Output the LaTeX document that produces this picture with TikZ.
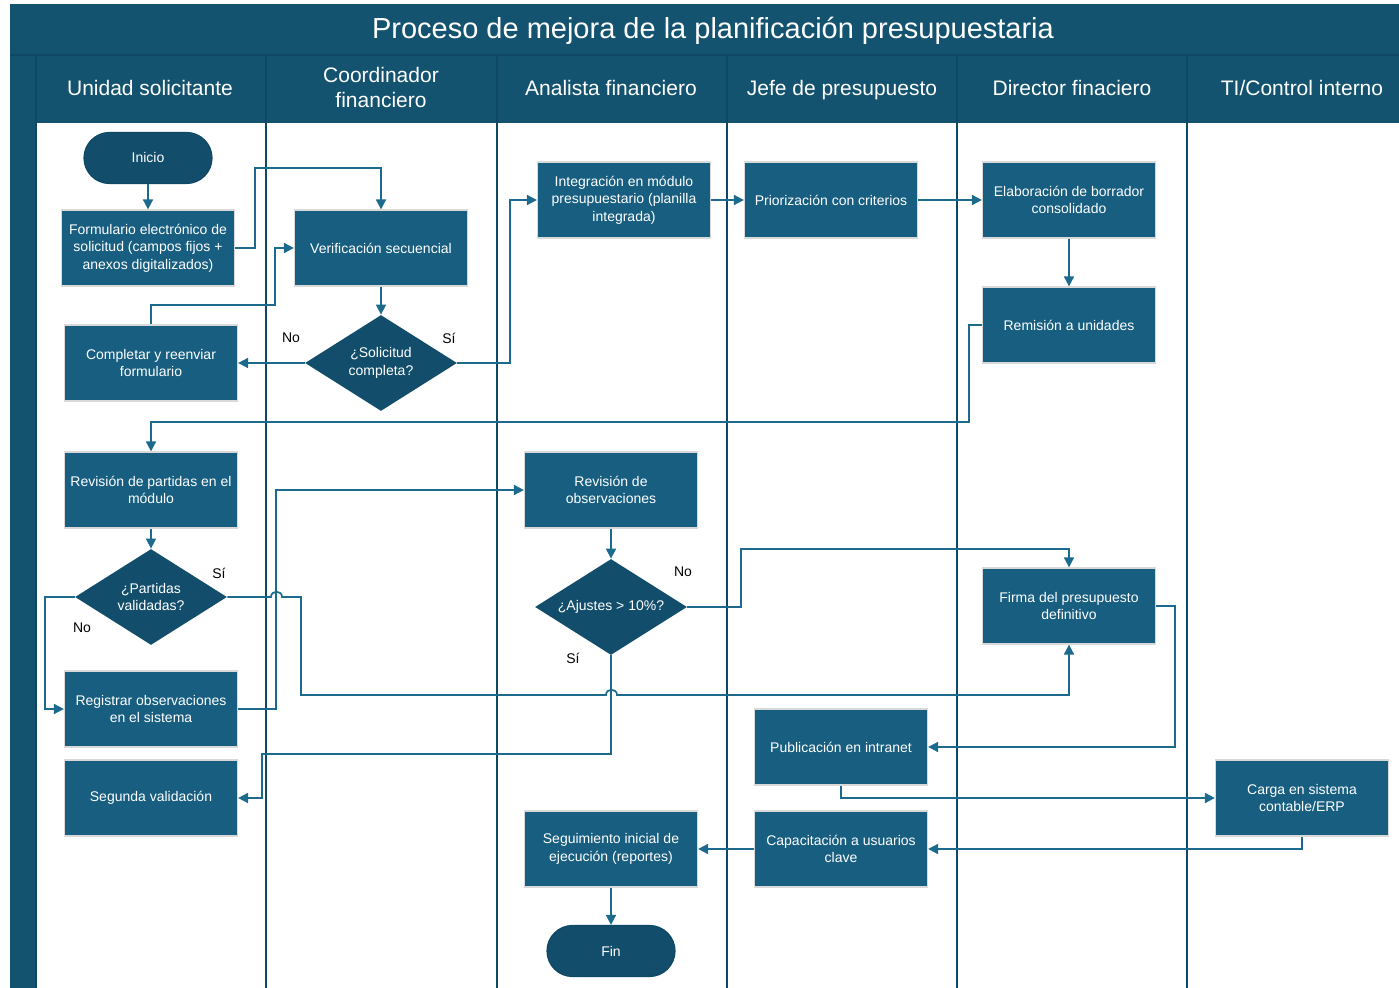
\documentclass[tikz,border=0pt]{standalone}
\usepackage{fontspec}
\setmainfont{Liberation Sans}
\usetikzlibrary{arrows.meta,shapes.geometric}

\definecolor{barcol}{HTML}{14536F}
\definecolor{lanecol}{HTML}{0F4864}
\definecolor{boxcol}{HTML}{175E80}
\definecolor{deccol}{HTML}{124E6B}
\definecolor{flowcol}{HTML}{1C6A8E}

\newcommand\boxfont{\fontsize{7}{8.7}\selectfont}
\newcommand\headfont{\fontsize{10.5}{12.5}\selectfont}

\tikzset{
    lane/.style={draw=lanecol, line width=0.75pt},
    procbox/.style={rectangle, fill=boxcol, draw=black!15, line width=0.6pt,
        text=white, minimum width=86.5pt, minimum height=38pt, inner sep=1pt,
        align=center, font=\boxfont},
    decision/.style={diamond, aspect=1.58, fill=deccol, text=white,
        minimum width=76pt, minimum height=48pt, inner sep=0pt,
        align=center, font=\boxfont},
    terminal/.style={rectangle, rounded corners=12.75pt, fill=deccol,
        draw=lanecol, line width=0.6pt, text=white, minimum width=64pt,
        minimum height=25.5pt, font=\boxfont},
    lanehead/.style={text=white, align=center, font=\headfont},
    answer/.style={text=black, font=\boxfont},
    flow/.style={draw=flowcol, line width=0.85pt, -{Triangle[length=5pt,width=5pt]}},
}

\begin{document}
\begin{tikzpicture}[x=0.5pt, y=-0.5pt]
    \useasboundingbox (0,0) rectangle (1399,988);

    % Title bar and lane headers
    \fill[barcol] (10,4) rectangle (1399,123);
    \fill[barcol] (10,123) rectangle (36,988);
    \draw[lane] (10,55) -- (1399,55);
    \draw[lane] (36,55) -- (36,988);
    \node[anchor=base, text=white, font=\fontsize{14.5}{16}\selectfont] (title) at (713,39)
        {Proceso de mejora de la planificación presupuestaria};

    % Lanes
    \foreach \x in {266,497,727,957,1187}
        \draw[lane] (\x,55) -- (\x,988);

    \node[lanehead, anchor=base] (hUnidad) at (150,96) {Unidad solicitante};
    \node[lanehead] (hCoord) at (381,88) {Coordinador\\financiero};
    \node[lanehead, anchor=base] (hAnal) at (611,96) {Analista financiero};
    \node[lanehead, anchor=base] (hJefe) at (842,96) {Jefe de presupuesto};
    \node[lanehead, anchor=base] (hDir) at (1072,96) {Director finaciero};
    \node[lanehead, anchor=base] (hTI) at (1302,96) {TI/Control interno};

    % Unidad solicitante
    \node[terminal] (start) at (148,158) {Inicio};
    \node[procbox] (form) at (148,248) {Formulario electrónico de\\solicitud (campos fijos +\\anexos digitalizados)};
    \node[procbox] (compl) at (151,363) {Completar y reenviar\\formulario};
    \node[procbox] (revp) at (151,490) {Revisión de partidas en el\\módulo};
    \node[decision] (partv) at (151,597) {¿Partidas\\validadas?};
    \node[procbox] (regis) at (151,709) {Registrar observaciones\\en el sistema};
    \node[procbox] (segv) at (151,798) {Segunda validación};

    % Coordinador financiero
    \node[procbox] (verif) at (381,248) {Verificación secuencial};
    \node[decision] (solic) at (381,363) {¿Solicitud\\completa?};

    % Analista financiero
    \node[procbox] (integ) at (624,200) {Integración en módulo\\presupuestario (planilla\\integrada)};
    \node[procbox] (revo) at (611,490) {Revisión de\\observaciones};
    \node[decision] (ajust) at (611,607) {¿Ajustes > 10\%?};
    \node[procbox] (segui) at (611,849) {Seguimiento inicial de\\ejecución (reportes)};
    \node[terminal] (fin) at (611,951) {Fin};

    % Jefe de presupuesto
    \node[procbox] (prior) at (831,200) {Priorización con criterios};
    \node[procbox] (publ) at (841,747) {Publicación en intranet};
    \node[procbox] (capac) at (841,849) {Capacitación a usuarios\\clave};

    % Director financiero
    \node[procbox] (elab) at (1069,200) {Elaboración de borrador\\consolidado};
    \node[procbox] (remis) at (1069,325) {Remisión a unidades};
    \node[procbox] (firma) at (1069,606) {Firma del presupuesto\\definitivo};

    % TI/Control interno
    \node[procbox] (carga) at (1302,798) {Carga en sistema\\contable/ERP};

    % Answers
    \node[answer] (aNo1) at (291,338) {No};
    \node[answer] (aSi1) at (449,338) {Sí};
    \node[answer] (aSi2) at (219,573) {Sí};
    \node[answer] (aNo2) at (82,628) {No};
    \node[answer] (aNo3) at (683,572) {No};
    \node[answer] (aSi3) at (573,658) {Sí};

    % Connectors
    \draw[flow] (start) -- (form);
    \draw[flow] (form.east) -| (255,168) -| (verif.north);
    \draw[flow] (verif) -- (solic);
    \draw[flow] (solic.west) -- (compl.east);
    \draw[flow] (compl.north) |- (275,305) |- (verif.west);
    \draw[flow] (solic.east) -| (510,200) -- (integ.west);
    \draw[flow] (integ) -- (prior);
    \draw[flow] (prior) -- (elab);
    \draw[flow] (elab) -- (remis);
    \draw[flow] (remis.west) -| (969,422) -| (revp.north);
    \draw[flow] (revp) -- (partv);
    \draw[flow] (partv.east) -- (271,597) .. controls (271,590) and (282,590) .. (282,597)
        -- (301,597) -- (301,695) -- (606,695) .. controls (606,688) and (617,688) .. (617,695)
        -| (firma.south);
    \draw[flow] (partv.west) -| (45,709) -- (regis.west);
    \draw[flow] (regis.east) -| (276,490) -- (revo.west);
    \draw[flow] (revo) -- (ajust);
    \draw[flow] (ajust.east) -| (741,549) -| (firma.north);
    \draw[flow] (ajust.south) |- (262,754) |- (segv.east);
    \draw[flow] (firma.east) -| (1175,747) -- (publ.east);
    \draw[flow] (publ.south) |- (carga.west);
    \draw[flow] (carga.south) |- (capac.east);
    \draw[flow] (capac) -- (segui);
    \draw[flow] (segui) -- (fin);
\end{tikzpicture}
\end{document}
